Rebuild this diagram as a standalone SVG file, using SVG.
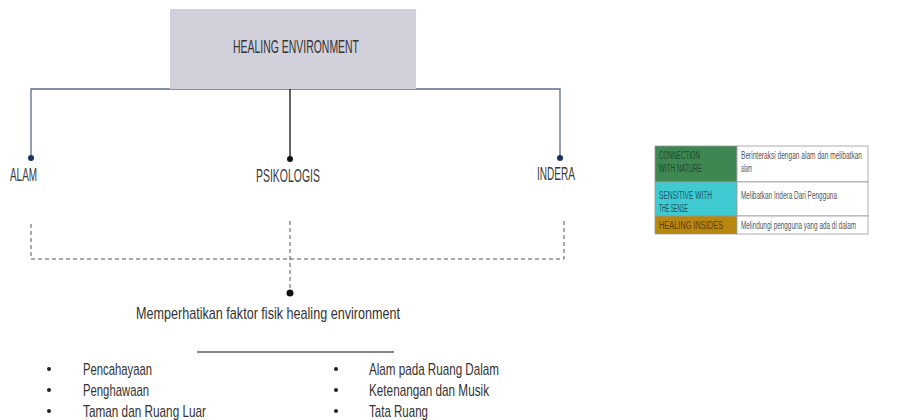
<svg xmlns="http://www.w3.org/2000/svg" width="924" height="420" viewBox="0 0 924 420">
<style>
text{font-family:"Liberation Sans Narrow","Liberation Sans",Arial,sans-serif;fill:#333;}
.lbl{font-size:19px;fill:#3a3a3a;}
.body{font-size:17px;fill:#333;}
.tb{font-size:10px;fill:#555;}
.conn{stroke:#5c6b86;stroke-width:1.3;fill:none;}
.dash{stroke:#555;stroke-width:1;stroke-dasharray:4 3;fill:none;}
.cell{stroke:#9a9a9a;stroke-width:0.8;}
</style>
<rect width="924" height="420" fill="#fff"/>
<g id="connectors">
<path class="conn" d="M31 158 V89 H560 V158"/>
<path d="M290 89 V159" stroke="#111" stroke-width="1.3" fill="none"/>
<circle cx="31" cy="158" r="3" fill="#1c2f63"/>
<circle cx="560" cy="158" r="3" fill="#1c2f63"/>
<circle cx="290" cy="159" r="3" fill="#111"/>
<path class="dash" d="M31 224 V259 H564 V220"/>
<path class="dash" d="M290 221 V293"/>
<circle cx="290" cy="293" r="3.5" fill="#111"/>
</g>
<g id="healing-environment">
<rect x="170" y="9" width="246" height="80" fill="#d1d0db"/>
<text x="233" y="53" textLength="126" lengthAdjust="spacingAndGlyphs" style="font-size:19px">HEALING ENVIRONMENT</text>
</g>
<g id="alam"><text class="lbl" x="10" y="181" textLength="27" lengthAdjust="spacingAndGlyphs">ALAM</text></g>
<g id="psikologis"><text class="lbl" x="256" y="182" textLength="64" lengthAdjust="spacingAndGlyphs">PSIKOLOGIS</text></g>
<g id="indera"><text class="lbl" x="537" y="180" textLength="38" lengthAdjust="spacingAndGlyphs">INDERA</text></g>
<g id="faktor-fisik">
<text class="body" x="136" y="319" textLength="264" lengthAdjust="spacingAndGlyphs">Memperhatikan faktor fisik healing environment</text>
<line x1="197" y1="352" x2="394" y2="352" stroke="#111" stroke-width="1"/>
</g>
<g id="list-left">
<circle cx="49" cy="369" r="2" fill="#222"/>
<circle cx="49" cy="390" r="2" fill="#222"/>
<circle cx="49" cy="411" r="2" fill="#222"/>
<text class="body" x="83" y="375" textLength="69" lengthAdjust="spacingAndGlyphs">Pencahayaan</text>
<text class="body" x="83" y="396" textLength="66" lengthAdjust="spacingAndGlyphs">Penghawaan</text>
<text class="body" x="83" y="417" textLength="123" lengthAdjust="spacingAndGlyphs">Taman dan Ruang Luar</text>
</g>
<g id="list-right">
<circle cx="336" cy="369" r="2" fill="#222"/>
<circle cx="336" cy="390" r="2" fill="#222"/>
<circle cx="336" cy="411" r="2" fill="#222"/>
<text class="body" x="369" y="375" textLength="130" lengthAdjust="spacingAndGlyphs">Alam pada Ruang Dalam</text>
<text class="body" x="369" y="396" textLength="120" lengthAdjust="spacingAndGlyphs">Ketenangan dan Musik</text>
<text class="body" x="369" y="417" textLength="59" lengthAdjust="spacingAndGlyphs">Tata Ruang</text>
</g>
<g id="table">
<rect class="cell" x="655" y="146" width="82" height="36" fill="#3f8752"/>
<rect class="cell" x="737" y="146" width="131" height="36" fill="#fff"/>
<rect class="cell" x="655" y="182" width="82" height="34" fill="#3ecad0"/>
<rect class="cell" x="737" y="182" width="131" height="34" fill="#fff"/>
<rect class="cell" x="655" y="216" width="82" height="18" fill="#b8870e"/>
<rect class="cell" x="737" y="216" width="131" height="18" fill="#fff"/>
<text class="tb" x="659" y="159" textLength="41" lengthAdjust="spacingAndGlyphs" style="fill:#1c4a2b">CONNECTION</text>
<text class="tb" x="659" y="172" textLength="43" lengthAdjust="spacingAndGlyphs" style="fill:#1c4a2b">WITH NATURE</text>
<text class="tb" x="659" y="199" textLength="53" lengthAdjust="spacingAndGlyphs" style="fill:#1b5560">SENSITIVE WITH</text>
<text class="tb" x="659" y="212" textLength="29" lengthAdjust="spacingAndGlyphs" style="fill:#1b5560">THE SENSE</text>
<text class="tb" x="659" y="229" textLength="64" lengthAdjust="spacingAndGlyphs" style="fill:#5a3d00">HEALING INSIDES</text>
<text class="tb" x="741" y="159" textLength="121" lengthAdjust="spacingAndGlyphs">Berinteraksi dengan alam dan melibatkan</text>
<text class="tb" x="741" y="172" textLength="11" lengthAdjust="spacingAndGlyphs">alam</text>
<text class="tb" x="741" y="199" textLength="96" lengthAdjust="spacingAndGlyphs">Melibatkan Indera Dari Pengguna</text>
<text class="tb" x="741" y="229" textLength="115" lengthAdjust="spacingAndGlyphs">Melindungi pengguna yang ada di dalam</text>
</g>
</svg>
